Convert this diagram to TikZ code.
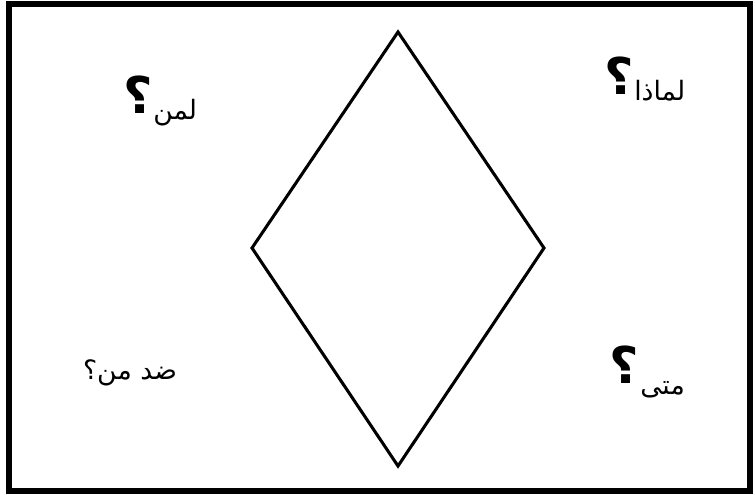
\documentclass[tikz,border=0pt]{standalone}
\usepackage{fontspec}
\TeXXeTstate=1
\newfontfamily\arabicfont[Script=Arabic]{DejaVu Sans}
\newfontfamily\arabicbold[Script=Arabic]{DejaVu Sans Bold}
\begin{document}
\begin{tikzpicture}[x=0.75pt,y=-0.75pt,
  lbl/.style={inner sep=0pt,font=\arabicfont\fontsize{20}{22}\selectfont},
  qm/.style={inner sep=0pt,font=\arabicbold\fontsize{38}{40}\selectfont}]
\useasboundingbox (0,0) rectangle (755,495);
\draw[line width=3.8pt] (9,4) rectangle (750,491);
\coordinate (T) at (398,32);
\coordinate (L) at (252,248);
\coordinate (B) at (398,466);
\coordinate (R) at (544,248);
\draw[line width=2.3pt,line join=miter] (T) -- (R) -- (B) -- (L) -- cycle;
\node[lbl,anchor=west] (a) at (153,113) {\beginR لمن\endR};
\node[qm,anchor=east] (aq) at (153,95) {\beginR ؟\endR};
\node[lbl,anchor=west] (b) at (634,91) {\beginR لماذا\endR};
\node[qm,anchor=east] (bq) at (634,76) {\beginR ؟\endR};
\node[lbl] (c) at (130,373) {\beginR ضد من؟\endR};
\node[lbl,anchor=west] (d) at (640,390) {\beginR متى\endR};
\node[qm,anchor=east] (dq) at (639,365) {\beginR ؟\endR};
\end{tikzpicture}
\end{document}
